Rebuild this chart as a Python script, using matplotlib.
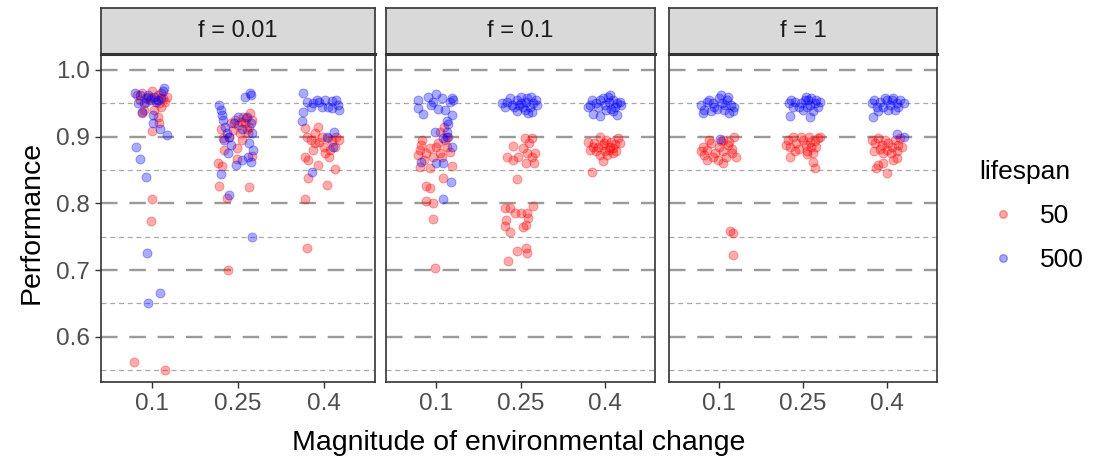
import matplotlib.pyplot as plt
from matplotlib.lines import Line2D

plt.rcParams['font.family'] = ['Liberation Sans', 'DejaVu Sans']

facets = ['f = 0.01', 'f = 0.1', 'f = 1']
changes = ['0.1', '0.25', '0.4']
lifespans = ['50', '500']
colors = {'50': 'red', '500': 'blue'}

# (jitter offset, performance) for each magnitude of change
f001_50 = [
    [(-0.18, 0.962), (-0.12, 0.965), (-0.05, 0.96), (0.0, 0.968), (0.06, 0.962), (0.12, 0.958), (0.17, 0.96),
     (-0.15, 0.955), (-0.08, 0.952), (0.03, 0.955), (0.1, 0.965), (0.15, 0.952), (-0.02, 0.958), (0.08, 0.95),
     (-0.1, 0.94), (0.02, 0.94), (0.1, 0.945), (0.06, 0.93), (0.0, 0.909), (-0.12, 0.935), (0.0, 0.806),
     (-0.02, 0.773), (-0.21, 0.562), (0.15, 0.55), (0.08, 0.92)],
    [(-0.2, 0.912), (-0.18, 0.898), (-0.16, 0.88), (-0.23, 0.86), (-0.19, 0.856), (-0.22, 0.826), (0.13, 0.825),
     (-0.13, 0.808), (-0.12, 0.70), (0.16, 0.871), (-0.01, 0.883), (-0.01, 0.866), (0.14, 0.935), (-0.08, 0.92),
     (-0.04, 0.925), (0.0, 0.918), (0.04, 0.922), (0.08, 0.92), (0.1, 0.912), (0.13, 0.915), (-0.06, 0.91),
     (0.02, 0.905), (0.06, 0.93), (0.09, 0.928), (0.16, 0.925), (-0.1, 0.9), (0.05, 0.895), (0.12, 0.905)],
    [(-0.22, 0.913), (-0.07, 0.915), (-0.2, 0.9), (-0.15, 0.895), (-0.1, 0.89), (-0.05, 0.892), (0.0, 0.885),
     (0.05, 0.898), (0.1, 0.893), (0.15, 0.9), (0.18, 0.895), (-0.12, 0.88), (0.02, 0.875), (0.08, 0.88),
     (0.13, 0.885), (-0.02, 0.9), (-0.22, 0.869), (-0.18, 0.865), (-0.07, 0.857), (0.13, 0.851), (-0.18, 0.838),
     (0.04, 0.827), (-0.22, 0.806), (-0.2, 0.733), (0.06, 0.87), (-0.1, 0.905)],
]
f001_500 = [
    [(-0.2, 0.965), (-0.14, 0.962), (-0.08, 0.958), (-0.03, 0.955), (0.02, 0.96), (0.07, 0.955), (0.12, 0.968),
     (0.14, 0.973), (-0.17, 0.95), (-0.1, 0.95), (-0.05, 0.962), (0.04, 0.952), (0.1, 0.958), (-0.12, 0.937),
     (0.01, 0.932), (0.01, 0.92), (0.09, 0.911), (0.17, 0.902), (-0.19, 0.885), (-0.15, 0.866), (-0.08, 0.84),
     (-0.06, 0.7255), (0.09, 0.665), (-0.05, 0.65)],
    [(0.14, 0.965), (0.08, 0.959), (0.15, 0.962), (-0.22, 0.948), (-0.2, 0.94), (-0.19, 0.932), (-0.17, 0.925),
     (-0.15, 0.915), (-0.13, 0.905), (-0.16, 0.895), (-0.1, 0.9), (-0.08, 0.888), (-0.05, 0.92), (0.05, 0.912),
     (0.1, 0.93), (0.15, 0.92), (0.16, 0.905), (0.13, 0.89), (0.17, 0.88), (0.12, 0.87), (0.15, 0.862),
     (0.05, 0.865), (-0.02, 0.857), (-0.2, 0.844), (-0.11, 0.812), (0.16, 0.75), (-0.12, 0.875), (0.0, 0.93)],
    [(-0.24, 0.965), (-0.19, 0.952), (-0.12, 0.95), (-0.05, 0.952), (0.02, 0.955), (0.1, 0.953), (0.14, 0.955),
     (0.1, 0.943), (0.17, 0.948), (-0.15, 0.945), (-0.08, 0.955), (0.05, 0.945), (-0.24, 0.937), (-0.25, 0.923),
     (0.12, 0.907), (0.11, 0.884), (-0.14, 0.847), (0.04, 0.9), (0.18, 0.94), (-0.02, 0.945)],
]
f01_50 = [
    [(-0.17, 0.895), (-0.2, 0.88), (-0.22, 0.872), (-0.08, 0.883), (0.04, 0.875), (0.07, 0.87), (0.16, 0.877),
     (0.1, 0.895), (0.04, 0.907), (-0.2, 0.854), (-0.08, 0.853), (0.18, 0.856), (0.08, 0.838), (-0.12, 0.826),
     (-0.08, 0.823), (-0.13, 0.804), (-0.04, 0.8), (-0.04, 0.776), (-0.02, 0.703), (0.0, 0.884), (-0.04, 0.87),
     (-0.18, 0.888), (0.12, 0.885), (0.14, 0.9), (-0.15, 0.865), (0.02, 0.89), (0.09, 0.915), (-0.12, 0.875)],
    [(0.05, 0.898), (0.14, 0.898), (-0.09, 0.886), (-0.16, 0.87), (-0.09, 0.865), (-0.03, 0.87), (0.03, 0.883),
     (0.08, 0.875), (0.14, 0.87), (0.17, 0.875), (0.06, 0.86), (0.16, 0.86), (-0.04, 0.836), (-0.18, 0.793),
     (-0.12, 0.793), (-0.07, 0.785), (0.0, 0.786), (0.08, 0.785), (0.09, 0.778), (0.15, 0.796), (-0.17, 0.775),
     (-0.18, 0.766), (-0.12, 0.757), (0.06, 0.767), (0.03, 0.764), (-0.04, 0.728), (0.06, 0.733), (0.08, 0.725),
     (-0.15, 0.713), (0.1, 0.89)],
    [(-0.2, 0.892), (-0.05, 0.9), (0.16, 0.898), (-0.17, 0.88), (0.03, 0.872), (-0.02, 0.863), (-0.15, 0.847),
     (0.1, 0.883), (0.12, 0.889), (-0.12, 0.89), (-0.08, 0.885), (-0.02, 0.888), (0.02, 0.895), (0.06, 0.885),
     (-0.1, 0.878), (0.0, 0.878), (0.08, 0.892), (0.18, 0.89), (-0.05, 0.872), (0.05, 0.88), (0.14, 0.878),
     (-0.14, 0.885), (0.1, 0.875), (-0.01, 0.89)],
]
f01_500 = [
    [(-0.22, 0.955), (-0.1, 0.96), (0.0, 0.964), (0.07, 0.958), (0.19, 0.958), (0.16, 0.952), (-0.04, 0.952),
     (-0.22, 0.943), (-0.16, 0.934), (0.02, 0.941), (0.1, 0.94), (0.12, 0.923), (0.14, 0.919), (0.19, 0.932),
     (-0.02, 0.907), (0.12, 0.907), (0.08, 0.898), (0.18, 0.884), (-0.18, 0.862), (0.0, 0.86), (0.08, 0.86),
     (0.17, 0.832), (0.08, 0.807), (0.12, 0.9), (0.2, 0.955), (-0.07, 0.948)],
    [(-0.22, 0.95), (-0.16, 0.952), (-0.12, 0.958), (-0.04, 0.955), (0.0, 0.95), (0.08, 0.958), (0.15, 0.95),
     (0.2, 0.948), (-0.04, 0.938), (0.09, 0.935), (0.14, 0.937), (-0.08, 0.945), (0.03, 0.945), (0.06, 0.952),
     (-0.1, 0.948), (0.11, 0.945), (0.18, 0.955), (-0.18, 0.945), (0.0, 0.96), (0.05, 0.94), (-0.02, 0.948),
     (0.12, 0.96)],
    [(-0.15, 0.955), (-0.2, 0.944), (-0.14, 0.934), (-0.05, 0.931), (0.04, 0.96), (0.15, 0.932), (-0.1, 0.95),
     (-0.05, 0.955), (0.0, 0.948), (0.05, 0.952), (0.1, 0.955), (0.15, 0.95), (0.18, 0.952), (0.02, 0.94),
     (0.08, 0.942), (-0.08, 0.945), (0.12, 0.945), (-0.02, 0.958), (0.06, 0.962), (0.1, 0.938), (0.2, 0.948),
     (-0.17, 0.948)],
]
f1_50 = [
    [(0.18, 0.9), (-0.15, 0.865), (0.04, 0.86), (0.2, 0.869), (0.13, 0.758), (0.17, 0.755), (0.17, 0.722),
     (-0.2, 0.885), (-0.15, 0.88), (-0.1, 0.89), (-0.05, 0.875), (0.0, 0.885), (0.05, 0.878), (0.1, 0.888),
     (0.15, 0.875), (-0.18, 0.872), (-0.08, 0.87), (0.08, 0.87), (0.12, 0.892), (-0.12, 0.895), (0.02, 0.893),
     (0.15, 0.882), (-0.02, 0.865), (0.05, 0.895), (-0.22, 0.878)],
    [(-0.18, 0.895), (-0.15, 0.885), (-0.12, 0.9), (-0.08, 0.89), (-0.05, 0.882), (0.0, 0.895), (0.03, 0.888),
     (0.07, 0.9), (0.1, 0.885), (0.14, 0.893), (0.18, 0.898), (0.2, 0.9), (-0.1, 0.878), (0.05, 0.878),
     (0.12, 0.875), (0.12, 0.862), (0.14, 0.853), (-0.15, 0.87), (0.05, 0.874), (-0.02, 0.9), (0.08, 0.892),
     (-0.2, 0.888), (0.16, 0.885)],
    [(-0.18, 0.895), (-0.14, 0.89), (-0.1, 0.898), (-0.06, 0.888), (-0.02, 0.895), (0.02, 0.89), (0.06, 0.885),
     (0.1, 0.895), (0.14, 0.888), (0.18, 0.885), (-0.15, 0.878), (-0.05, 0.875), (0.05, 0.875), (0.12, 0.878),
     (-0.04, 0.86), (-0.1, 0.857), (-0.13, 0.853), (0.0, 0.845), (0.12, 0.868), (0.08, 0.865), (-0.08, 0.882),
     (0.16, 0.898), (0.0, 0.88)],
]
f1_500 = [
    [(-0.22, 0.948), (-0.18, 0.94), (-0.12, 0.955), (-0.06, 0.945), (0.0, 0.958), (0.03, 0.95), (0.09, 0.955),
     (0.14, 0.948), (0.18, 0.945), (-0.15, 0.952), (-0.1, 0.938), (0.06, 0.94), (0.12, 0.935), (0.16, 0.938),
     (-0.2, 0.935), (0.02, 0.962), (-0.03, 0.942), (0.1, 0.96), (-0.08, 0.95), (0.07, 0.948), (0.01, 0.897)],
    [(-0.17, 0.95), (-0.14, 0.955), (-0.12, 0.945), (-0.16, 0.931), (0.08, 0.93), (-0.02, 0.95), (0.02, 0.955),
     (0.05, 0.945), (0.1, 0.958), (0.14, 0.95), (0.18, 0.945), (0.2, 0.952), (0.0, 0.94), (0.08, 0.948),
     (0.12, 0.938), (-0.05, 0.945), (0.16, 0.955), (0.03, 0.96), (-0.1, 0.952), (0.06, 0.955)],
    [(-0.18, 0.95), (-0.15, 0.955), (-0.12, 0.945), (-0.17, 0.93), (-0.08, 0.952), (-0.04, 0.945), (0.0, 0.955),
     (0.04, 0.948), (0.08, 0.958), (0.12, 0.95), (0.16, 0.955), (0.2, 0.95), (0.02, 0.94), (0.1, 0.94),
     (-0.1, 0.938), (0.06, 0.955), (0.14, 0.945), (-0.02, 0.958), (0.12, 0.904), (0.21, 0.9)],
]

panel_data = [
    {'50': f001_50, '500': f001_500},
    {'50': f01_50, '500': f01_500},
    {'50': f1_50, '500': f1_500},
]

W, H = 1101, 459
fig = plt.figure(figsize=(W / 100, H / 100), dpi=100)

lefts = [101, 386, 669]
rights = [375, 655, 937]
top, strip_bottom, bottom = 8, 54, 382

for k in range(3):
    l, r = lefts[k], rights[k]
    ax = fig.add_axes([l / W, 1 - bottom / H, (r - l) / W, (bottom - strip_bottom) / H])
    for ls in lifespans:
        for i, grp in enumerate(panel_data[k][ls]):
            xs = [i + 1 + dx for dx, y in grp]
            ys = [y for dx, y in grp]
            ax.scatter(xs, ys, s=42, color=colors[ls], alpha=0.33, linewidths=0.7, zorder=3)
    ax.set_xlim(0.4, 3.6)
    ax.set_ylim(0.532, 1.024)
    ax.set_xticks([1, 2, 3])
    ax.set_xticklabels(changes)
    ax.set_yticks([0.6, 0.7, 0.8, 0.9, 1.0])
    ax.set_yticks([0.55, 0.65, 0.75, 0.85, 0.95], minor=True)
    ax.set_yticklabels(['0.6', '0.7', '0.8', '0.9', '1.0'])
    ax.grid(True, which='major', axis='y', color='#9a9a9a', lw=1.7, linestyle=(0, (7, 5)))
    ax.grid(True, which='minor', axis='y', color='#a8a8a8', lw=0.9, linestyle=(0, (4, 3)))
    ax.set_axisbelow(True)
    ax.tick_params(axis='both', which='major', labelsize=17.5, labelcolor='#4D4D4D', color='#333333',
                   length=4, width=1, pad=4)
    ax.tick_params(axis='y', which='minor', length=0)
    if k > 0:
        ax.tick_params(axis='y', which='major', left=False, labelleft=False)
    for sp in ax.spines.values():
        sp.set_color('#333333')
        sp.set_linewidth(1.2)

    sax = fig.add_axes([l / W, 1 - strip_bottom / H, (r - l) / W, (strip_bottom - top) / H])
    sax.set_facecolor('#D9D9D9')
    sax.set_xticks([])
    sax.set_yticks([])
    for sp in sax.spines.values():
        sp.set_color('#333333')
        sp.set_linewidth(1.2)
    sax.spines['bottom'].set_linewidth(2.2)
    sax.text(0.5, 0.5, facets[k], ha='center', va='center', fontsize=17, color='#1A1A1A',
             transform=sax.transAxes)

fig.text((lefts[0] + rights[2]) / 2 / W, 1 - 443 / H, 'Magnitude of environmental change',
         ha='center', va='center', fontsize=20.5)
fig.text(32 / W, 1 - 222 / H, 'Performance', ha='center', va='center', rotation=90, fontsize=20.5)

handles = [Line2D([], [], marker='o', linestyle='none', markersize=5.5, color=colors[ls], alpha=0.35)
           for ls in lifespans]
fig.legend(handles, lifespans, title='lifespan', loc='center left', bbox_to_anchor=(958 / W, 1 - 216 / H),
           frameon=False, fontsize=19, title_fontsize=19, labelspacing=0.75, handlelength=1.8,
           handletextpad=0.5, borderpad=0.3, alignment='left')

fig.savefig('out.png', dpi=100)
